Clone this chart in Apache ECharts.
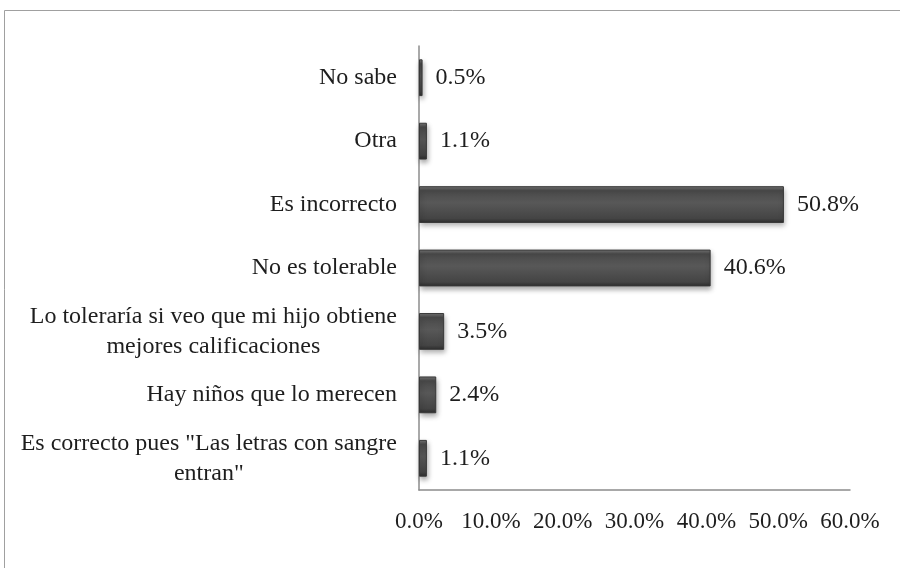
<!DOCTYPE html>
<html>
<head>
<meta charset="utf-8">
<script src="https://cdn.jsdelivr.net/npm/echarts@6/dist/echarts.min.js"></script>
<style>
  html, body { margin: 0; padding: 0; background: #fff; }
  #chart { width: 900px; height: 568px; }
</style>
</head>
<body>
<div id="chart"></div>
<script>
// Answer options, listed top to bottom
const categories = [
  'No sabe',
  'Otra',
  'Es incorrecto',
  'No es tolerable',
  'Lo toleraría si veo que mi hijo obtiene\nmejores calificaciones',
  'Hay niños que lo merecen',
  'Es correcto pues "Las letras con sangre\nentran"'
];
// Share of respondents (%)
const values = [0.5, 1.1, 50.8, 40.6, 3.5, 2.4, 1.1];
// Horizontal axis ticks (%)
const tickValues = [0, 10, 20, 30, 40, 50, 60];

const FONT = '"Liberation Serif", "DejaVu Serif", serif';
const TEXT = '#1e1e1e';

const chart = echarts.init(document.getElementById('chart'));
chart.setOption({
  animation: false,
  backgroundColor: '#ffffff',
  graphic: [{
    type: 'rect',
    shape: { x: 4.5, y: 10.5, width: 900, height: 570 },
    style: { fill: 'none', stroke: '#a0a0a0', lineWidth: 1 },
    silent: true
  }],
  grid: { left: 419, right: 50, top: 46, bottom: 78, containLabel: false },
  xAxis: {
    type: 'value',
    min: tickValues[0],
    max: tickValues[tickValues.length - 1],
    interval: tickValues[1] - tickValues[0],
    axisLine: { show: true, lineStyle: { color: '#8c8c8c', width: 1.5 } },
    axisTick: { show: false },
    splitLine: { show: false },
    axisLabel: {
      margin: 20,
      color: TEXT,
      fontFamily: FONT,
      fontSize: 23,
      formatter: v => v.toFixed(1) + '%'
    }
  },
  yAxis: {
    type: 'category',
    data: categories,
    inverse: true,
    axisLine: { show: true, lineStyle: { color: '#8c8c8c', width: 1.5 } },
    axisTick: { show: false },
    axisLabel: {
      margin: 22,
      color: TEXT,
      fontFamily: FONT,
      fontSize: 24,
      lineHeight: 30,
      align: 'right',
      // each line centred inside the right-aligned label block
      formatter: v => v.split('\n').map(l => '{c|' + l + '}').join('\n'),
      rich: {
        c: {
          align: 'center',
          color: TEXT,
          fontFamily: FONT,
          fontSize: 24,
          lineHeight: 30
        }
      }
    }
  },
  series: [{
    type: 'bar',
    data: values,
    barWidth: '58%',
    itemStyle: {
      color: new echarts.graphic.LinearGradient(0, 0, 0, 1, [
        { offset: 0, color: '#787878' },
        { offset: 0.12, color: '#4a4a4a' },
        { offset: 0.45, color: '#585858' },
        { offset: 0.88, color: '#444444' },
        { offset: 1, color: '#2c2c2c' }
      ]),
      borderColor: '#383838',
      borderWidth: 1,
      shadowColor: 'rgba(0,0,0,0.35)',
      shadowBlur: 5,
      shadowOffsetY: 3,
      shadowOffsetX: 1
    },
    label: {
      show: true,
      position: 'right',
      distance: 13,
      color: TEXT,
      fontFamily: FONT,
      fontSize: 24,
      formatter: p => p.value.toFixed(1) + '%'
    }
  }]
});
</script>
</body>
</html>
